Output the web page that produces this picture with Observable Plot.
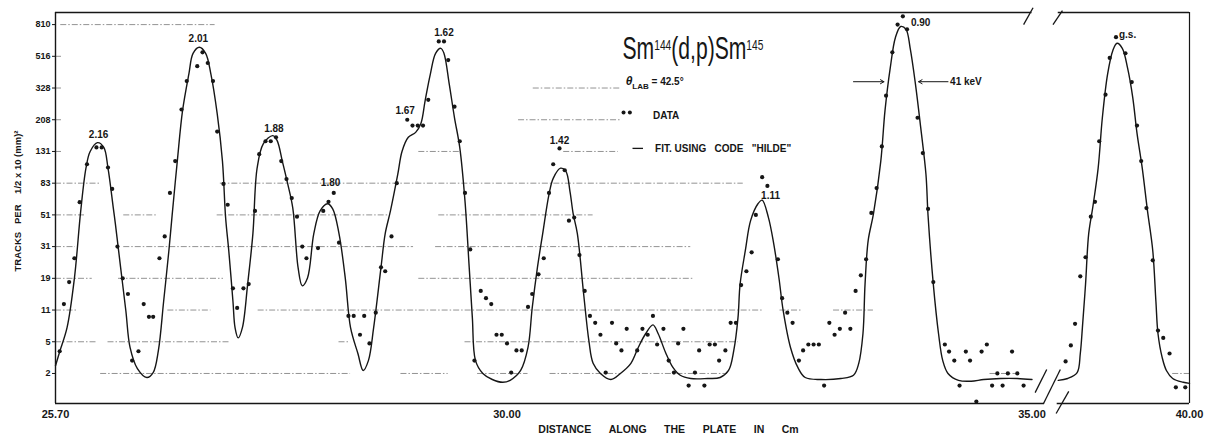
<!DOCTYPE html>
<html><head><meta charset="utf-8">
<script src="https://cdn.jsdelivr.net/npm/d3@7"></script>
<script src="https://cdn.jsdelivr.net/npm/@observablehq/plot@0.6"></script>
<style>
html,body{margin:0;padding:0;background:#fff;}
#chart{width:1212px;height:440px;}
</style></head><body><div id="chart"></div>
<script>
// ---- tick labels ----
const yTickValues = [2, 5, 11, 19, 31, 51, 83, 131, 208, 328, 516, 810];
const xTickCm = [25.70, 30.00, 35.00, 40.00];

// ---- axis break (plate section 35.00 .. 38.75 cm omitted) ----
const breakFrom = 35.00, breakTo = 38.75, breakGap = 0.25;

// ---- measured data: distance (cm) and tracks ----
const dataCm = [25.74,25.78,25.83,25.88,25.93,26.00,26.09,26.14,26.20,26.24,26.29,26.34,26.39,26.43,26.49,26.54,26.59,26.63,26.69,26.74,
26.79,26.84,26.90,26.95,27.05,27.10,27.15,27.20,27.24,27.30,27.34,27.39,27.43,27.49,27.54,27.60,27.64,27.70,27.75,27.80,
27.85,27.90,27.95,28.00,28.05,28.09,28.20,28.25,28.30,28.35,28.40,28.49,28.54,28.60,28.64,28.69,28.75,28.80,28.84,28.90,
28.95,29.05,29.10,29.15,29.20,29.25,29.35,29.40,29.44,29.50,29.55,29.60,29.65,29.69,29.75,29.80,29.85,29.90,29.95,30.00,
30.04,30.09,30.14,30.20,30.24,30.30,30.35,30.40,30.44,30.50,30.55,30.59,30.64,30.69,30.74,30.79,30.84,30.89,30.94,31.00,
31.04,31.09,31.14,31.24,31.29,31.34,31.39,31.43,31.49,31.54,31.59,31.63,31.68,31.73,31.79,31.83,31.88,31.93,31.98,32.02,
32.08,32.13,32.18,32.23,32.28,32.33,32.37,32.43,32.48,32.58,32.62,32.67,32.72,32.78,32.82,32.87,32.92,32.97,33.02,33.07,
33.12,33.17,33.22,33.27,33.32,33.37,33.42,33.47,33.52,33.57,33.61,33.67,33.72,33.77,33.81,33.91,33.96,34.01,34.06,34.17,
34.21,34.26,34.31,34.37,34.41,34.47,34.52,34.57,34.62,34.67,34.72,34.77,34.81,34.86,34.92,
38.82,38.87,38.91,38.96,39.01,39.06,39.10,39.14,39.20,39.24,39.30,39.39,39.45,39.50,39.54,39.59,39.65,39.70,39.75,39.81,39.87,39.96];
const dataTracks = [3.8,12.2,17.8,25.9,62,109,139,139,104,76,31,19,14.5,2.9,3.8,12.2,9.3,9.3,25.9,36.4,
71.5,114,241,362,448,546,469,362,175,82,59.6,16.0,11.4,16.0,17.2,54.2,126,152,152,161,
114,88,66,49.6,31,25.9,30.3,54.2,62.3,71.5,33,9.5,9.5,5.95,9.5,4.77,10.3,22.5,21.2,36.4,
83,208,191,191,191,277,638,638,489,251,152,71.5,29.7,2.9,15.3,13.5,12.2,5.95,5.95,4.77,
2.05,3.89,3.89,11.6,14.5,20.2,25.9,71.5,109,137,100,46.6,48.9,27.2,15.3,9.5,8.0,5.95,2.05,8.0,
4.77,3.89,6.9,3.89,6.9,5.95,9.5,4.62,6.9,2.9,2.05,4.77,6.9,1.41,2.05,3.89,1.41,4.62,4.62,2.9,
3.89,8.0,8.0,16.9,21.2,28.4,51,90.5,79.6,25.5,13.5,10.3,8.0,2.9,3.89,4.62,4.62,4.62,1.41,8.0,
5.95,6.9,10.3,6.9,15.3,19.9,25.5,52.6,77,141,294,546,810,911,757,214,128,55.9,17.8,4.62,
3.76,2.9,1.41,3.76,2.9,0.89,3.76,4.62,1.41,2.0,1.41,2.0,3.76,2.0,1.41,
2.83,4.5,7.8,19.6,26.3,49.6,62.3,152,298,504,677,539,357,191,114,56.6,25.1,6.6,5.5,3.56,1.34,1.34];

// ---- fit using code "HILDE" ----
const fitCm = [25.70,25.74,25.81,25.88,25.94,25.99,26.03,26.10,26.16,26.20,26.25,26.27,26.32,26.37,26.41,26.48,26.57,26.63,26.68,26.73,
26.78,26.81,26.86,26.91,26.97,27.01,27.07,27.13,27.18,27.24,27.29,27.32,27.35,27.39,27.41,27.44,27.48,27.53,27.58,27.62,
27.68,27.77,27.81,27.86,27.91,27.96,28.01,28.05,28.10,28.16,28.22,28.29,28.34,28.40,28.46,28.51,28.58,28.63,28.68,28.73,
28.80,28.84,28.89,28.96,29.00,29.06,29.13,29.18,29.22,29.27,29.32,29.37,29.40,29.45,29.50,29.55,29.60,29.64,29.67,29.70,
29.77,29.86,29.96,30.03,30.13,30.20,30.24,30.29,30.34,30.40,30.44,30.51,30.56,30.60,30.63,30.67,30.73,30.78,30.82,30.89,
30.99,31.08,31.18,31.25,31.32,31.39,31.44,31.51,31.58,31.65,31.75,31.91,32.03,32.11,32.16,32.20,32.22,32.27,32.32,32.39,
32.43,32.49,32.54,32.59,32.63,32.70,32.77,32.84,32.99,33.18,33.30,33.35,33.39,33.41,33.44,33.49,33.56,33.60,33.65,33.70,
33.75,33.80,33.84,33.89,33.94,33.99,34.01,34.06,34.11,34.15,34.20,34.30,34.42,34.54,34.70,34.86,35.00,
38.75,38.84,38.93,38.96,38.98,39.01,39.04,39.08,39.13,39.17,39.22,39.27,39.31,39.36,39.41,39.46,39.50,39.55,39.60,39.65,
39.68,39.70,39.74,39.78,39.84,39.94,40.00];
const fitTracks = [2.5,3.76,7.1,19,54,103,131,149,139,103,57,44.5,22.5,10.8,4.24,2.3,1.78,2.05,3.89,12.8,
29.2,50,114,237,400,538,587,538,400,227,114,49,29.2,12.8,7.1,5.5,7.1,17.2,38,103,
147,165,154,114,83,56.6,22.5,16.7,19.1,38,54.2,60.5,56,38,19,7.1,3.56,2.18,2.9,7.1,
22.5,38,54.2,94.4,131,161,173,197,273,400,538,578,538,347,214,139,63,22.5,9.1,2.9,
2.0,1.68,1.55,1.64,2.18,4.24,11.4,22.5,38,70,89,103,98.7,73,52,38,14.5,5.1,2.68,2.0,
1.68,2.0,2.68,4.24,6.1,7.6,6.1,3.67,2.38,1.9,1.73,1.73,1.78,2.18,3.89,9.1,17.2,29.2,46.6,60.5,
64,48.9,32.5,19.1,10.9,4.24,2.38,1.78,1.68,1.73,1.9,2.68,6.1,17.2,34.2,51.8,114,237,437,677,
788,757,578,347,186,94.4,50.5,17.2,6.1,2.9,2.0,1.64,1.6,1.68,1.73,1.73,1.68,
1.64,1.73,2.05,3.56,7.1,17.2,38,58,103,214,400,561,621,578,437,285,171,103,54.2,29.2,
12.8,6.1,3.16,2.18,1.73,1.55,1.5];

// ---- peak labels (excitation energies, MeV) ----
const peakText   = ["2.16", "2.01", "1.88", "1.80", "1.67", "1.62", "1.42", "1.11", "0.90", "g.s."];
const peakCm     = [26.11, 27.06, 27.78, 28.32, 29.03, 29.40, 30.50, 32.51, 33.94, 39.41];
const peakTracks = [167, 664, 183, 84, 237, 724, 153, 68, 832, 701];

// ---- partial grid lines: [tracks, from cm, to cm] ----
const gridRows = [
  [810,25.75,27.22],
  [516,25.70,25.77],
  [328,25.70,25.77],[328,30.25,31.08],
  [208,25.70,25.77],[208,30.11,31.08],
  [131,25.70,25.77],[131,29.16,29.56],[131,30.54,31.06],
  [83,25.70,26.13],[83,27.27,32.25],
  [51,25.70,25.99],[51,26.35,26.67],[51,27.24,28.89],[51,29.35,30.82],
  [31,25.70,25.89],[31,26.35,29.11],[31,29.32,31.75],
  [19,25.70,26.05],[19,26.30,27.30],[19,29.16,31.77],
  [11,25.70,25.91],[11,26.77,27.18],[11,27.63,32.44],[11,32.60,32.80],[11,33.11,33.49],
  [5,25.70,26.10],[5,26.20,27.37],[5,28.40,28.51],[5,29.60,32.20],
  [2,26.13,28.51],[2,28.99,29.44],[2,29.72,30.20],[2,30.41,31.08],[2,31.18,32.10],[2,34.60,34.89],[2,39.84,40.00]
];

// ---- scales helpers ----
const yIdx = d3.scaleLinear().domain(yTickValues.map(Math.log)).range(yTickValues.map((_, i) => i));
const yf = v => yIdx(Math.log(v));
const xf = c => c >= breakTo ? c - breakTo + breakFrom + breakGap : c;

const points = dataCm.map((c, i) => ({cm: c, tracks: dataTracks[i]}));
const fit = fitCm.map((c, i) => ({cm: c, tracks: fitTracks[i], part: c >= breakTo ? 1 : 0}));
const peaks = peakText.map((t, i) => ({t, cm: peakCm[i], tracks: peakTracks[i]}));
const grid = gridRows.map(([v, a, b]) => ({v, a, b}));

const xMax = xf(40.00);
const yBot = yf(0.84), yTop = yf(962);

// frame pieces (axis units)
const topSegs = [{a: 25.70, b: breakFrom}, {a: breakFrom + breakGap, b: xMax}];
const botSegs = [{a: 25.70, b: breakFrom + 0.12}, {a: breakFrom + 0.24, b: xMax}];
// break marks (axis units / tracks)
const breakMarks = [
  {x1: 34.92, y1: 810, x2: 35.01, y2: 1029},
  {x1: 35.20, y1: 810, x2: 35.29, y2: 988},
  {x1: 35.03, y1: 1.15, x2: 35.14, y2: 2.24},
  {x1: 35.11, y1: 0.84, x2: 35.27, y2: 2.24},
  {x1: 35.23, y1: 0.63, x2: 35.35, y2: 1.19}
];

const TITLE = "Sm144(d,p)Sm145";
const THETA = "θLAB = 42.5°";
const ink = "#161616";
const font = "'Liberation Sans', Arial, Helvetica, sans-serif";

const svg = Plot.plot({
  width: 1212, height: 440,
  marginLeft: 55, marginRight: 23, marginTop: 12, marginBottom: 37,
  style: {background: "#fff", fontFamily: font, color: ink},
  x: {type: "linear", domain: [25.70, xMax]},
  y: {type: "linear", domain: [yBot, yTop]},
  marks: [
    Plot.ruleY(grid, {y: d => yf(d.v), x1: d => xf(d.a), x2: d => xf(d.b), stroke: "#555", strokeWidth: 0.8, strokeDasharray: "6,2,1.5,2", strokeOpacity: 0.8}),
    // frame
    Plot.ruleX([25.70], {y1: yBot, y2: yTop, stroke: ink, strokeWidth: 1.4}),
    Plot.ruleX([xMax], {y1: yBot, y2: yTop, stroke: ink, strokeWidth: 1.2}),
    Plot.ruleY(topSegs, {y: yTop, x1: "a", x2: "b", stroke: ink, strokeWidth: 1.4}),
    Plot.ruleY(botSegs, {y: yBot, x1: "a", x2: "b", stroke: ink, strokeWidth: 1.4}),
    Plot.link(breakMarks, {x1: "x1", x2: "x2", y1: d => yf(d.y1), y2: d => yf(d.y2), stroke: ink, strokeWidth: 1.3}),
    // fit curve
    Plot.line(fit, {x: d => xf(d.cm), y: d => yf(d.tracks), z: "part", curve: "catmull-rom", stroke: ink, strokeWidth: 1.4}),
    // data
    Plot.dot(points, {x: d => xf(d.cm), y: d => yf(d.tracks), r: 2.1, fill: ink, stroke: "none"}),
    // peak labels
    Plot.text(peaks, {x: d => xf(d.cm), y: d => yf(d.tracks), text: "t", fontSize: 10, fontWeight: "bold", fill: ink}),
    // title and legend
    Plot.text([TITLE], {x: 31.10, y: yf(575), text: d => d, textAnchor: "start", fontSize: 31, fill: ink}),
    Plot.text([THETA], {x: 31.13, y: yf(359), text: d => d, textAnchor: "start", fontSize: 10, fontWeight: "bold", fill: ink}),
    Plot.dot([31.11, 31.17], {x: d => d, y: yf(231), r: 2, fill: ink, stroke: "none"}),
    Plot.text(["DATA"], {x: 31.39, y: yf(221), text: d => d, textAnchor: "start", fontSize: 10, fontWeight: "bold", fill: ink}),
    Plot.ruleY([yf(137)], {x1: 31.20, x2: 31.30, stroke: ink, strokeWidth: 1.3}),
    Plot.text(["FIT.\u00a0USING\u00a0\u00a0\u00a0CODE\u00a0\u00a0\u00a0\"HILDE\""], {x: 31.41, y: yf(137), text: d => d, textAnchor: "start", fontSize: 10, fontWeight: "bold", fill: ink}),
    // 41 keV width
    Plot.arrow([{x1: 33.30, x2: 33.59}, {x1: 34.20, x2: 33.92}], {x1: "x1", x2: "x2", y1: yf(359), y2: yf(359), stroke: ink, strokeWidth: 1, headLength: 6}),
    Plot.text(["41\u00a0keV"], {x: 34.22, y: yf(359), text: d => d, textAnchor: "start", fontSize: 10, fontWeight: "bold", fill: ink}),
    // axes
    Plot.axisY({ticks: d3.range(yTickValues.length), tickFormat: i => yTickValues[Math.round(i)], tickSize: 3, tickPadding: 2, fontSize: 9, fontWeight: "bold", label: null, stroke: ink}),
    Plot.axisX({ticks: xTickCm.map(xf), tickFormat: t => {
        const i = d3.minIndex(xTickCm, c => Math.abs(xf(c) - t));
        return xTickCm[i].toFixed(2);
      }, tickSize: 0, tickPadding: 7, fontSize: 11, fontWeight: "bold", label: null}),
    Plot.text(["TRACKS\u00a0\u00a0\u00a0PER\u00a0\u00a0\u00a0\u00a01/2\u00a0x\u00a010\u00a0(mm)²"], {frameAnchor: "left", textAnchor: "middle", text: d => d, rotate: -90, dx: -38, dy: -7, fontSize: 9.5, fontWeight: "bold", fill: ink}),
    Plot.text(["DISTANCE\u00a0\u00a0\u00a0\u00a0\u00a0\u00a0ALONG\u00a0\u00a0\u00a0\u00a0\u00a0\u00a0THE\u00a0\u00a0\u00a0\u00a0\u00a0\u00a0PLATE\u00a0\u00a0\u00a0\u00a0\u00a0\u00a0IN\u00a0\u00a0\u00a0\u00a0\u00a0\u00a0Cm"], {frameAnchor: "bottom", text: d => d, dy: 29, dx: 46, fontSize: 10.5, fontWeight: "bold", fill: ink})
  ]
});

document.getElementById("chart").appendChild(svg);

// rich text: superscripts / subscripts
d3.select(svg).selectAll("text").each(function() {
  const el = d3.select(this);
  if (this.textContent === TITLE) {
    el.text(null);
    el.append("tspan").text("Sm");
    el.append("tspan").attr("font-size", 15).attr("dy", -9).text("144");
    el.append("tspan").attr("dy", 9).text("(d,p)Sm");
    el.append("tspan").attr("font-size", 15).attr("dy", -9).text("145");
    const w = this.getComputedTextLength();
    const k = 141 / w;
    const tr = el.attr("transform") || "";
    const x = +el.attr("x") || 0, y = +el.attr("y") || 0;
    el.attr("transform", `${tr} translate(${x},${y}) scale(${k},1) translate(${-x},${-y})`);
  } else if (this.textContent === THETA) {
    el.text(null);
    el.append("tspan").attr("font-size", 12).attr("font-style", "italic").text("θ");
    el.append("tspan").attr("font-size", 8).attr("dy", 4).text("LAB");
    el.append("tspan").attr("dy", -4).text(" = 42.5°");
  }
});
</script>
</body></html>
